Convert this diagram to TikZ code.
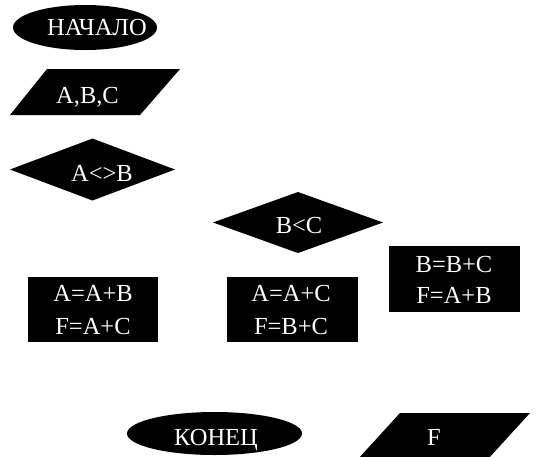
\documentclass[tikz,border=0pt]{standalone}
\usepackage{fontspec}
\setmainfont{Liberation Serif}
\usetikzlibrary{shapes.geometric}
\begin{document}
\begin{tikzpicture}[x=1pt,y=-1pt,
  txt/.style={text=white,font=\fontsize{24.5}{29}\selectfont,inner sep=0pt,anchor=base},
  blk/.style={fill=black,draw=none,inner sep=0pt,outer sep=0pt},
  term/.style={blk,ellipse},
  decision/.style={blk,diamond},
  procbox/.style={blk,rectangle}]
\useasboundingbox (0,0) rectangle (539,456);
\clip (0,0) rectangle (539,456);
% shapes
\node[term,minimum width=144pt,minimum height=45pt] (start) at (85,27.5) {};
\fill[black] (47,69) coordinate (abcTL) -- (180,69) coordinate (abcTR) -- (140,115) coordinate (abcBR) -- (10,115) coordinate (abcBL) -- cycle;
\node[decision,minimum width=165pt,minimum height=62pt] (dab) at (92.5,169.5) {};
\node[decision,minimum width=170pt,minimum height=61pt] (dbc) at (298,222.5) {};
\node[procbox,minimum width=130pt,minimum height=65pt] (box1) at (93,309.5) {};
\node[procbox,minimum width=131pt,minimum height=65pt] (box2) at (292.5,309.5) {};
\node[procbox,minimum width=131pt,minimum height=66pt] (box3) at (454.5,279) {};
\node[term,minimum width=175pt,minimum height=43pt] (finish) at (214.5,433.5) {};
\fill[black] (400,413) coordinate (fTL) -- (530,413) coordinate (fTR) -- (488,459) coordinate (fBR) -- (358,459) coordinate (fBL) -- cycle;
% texts
\node[txt] (tstart) at (97,35) {НАЧАЛО};
\node[txt] (tabc) at (87.5,103) {A,B,C};
\node[txt] (tab) at (102,181) {A<>B};
\node[txt] (tbc) at (299,233) {B<C};
\node[txt] (b1a) at (93,301) {A=A+B};
\node[txt] (b1b) at (93,334) {F=A+C};
\node[txt] (b2a) at (291,301) {A=A+C};
\node[txt] (b2b) at (291,334) {F=B+C};
\node[txt] (b3a) at (454,272) {B=B+C};
\node[txt] (b3b) at (454,303) {F=A+B};
\node[txt] (tfinish) at (216,445) {КОНЕЦ};
\node[txt] (tf) at (434,445) {F};
\end{tikzpicture}
\end{document}
